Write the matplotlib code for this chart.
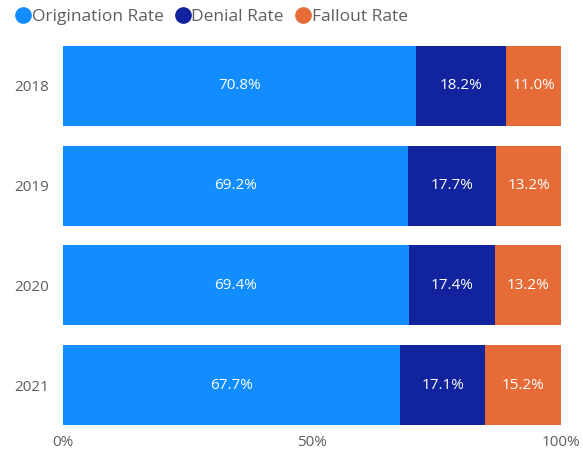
import numpy as np
import matplotlib
matplotlib.use("Agg")
import matplotlib.pyplot as plt
from matplotlib.lines import Line2D

years = ["2018", "2019", "2020", "2021"]
origination = [70.8, 69.2, 69.4, 67.7]
denial = [18.2, 17.7, 17.4, 17.1]
fallout = [11.0, 13.2, 13.2, 15.2]
series = [("Origination Rate", origination, "#118DFF"),
          ("Denial Rate", denial, "#12239E"),
          ("Fallout Rate", fallout, "#E66C37")]

plt.rcParams["font.family"] = ["Open Sans", "DejaVu Sans"]
fig = plt.figure(figsize=(5.83, 4.51), dpi=100)
ax = fig.add_axes([63 / 583, 1 - 435 / 451, 498 / 583, 399 / 451])

y = np.arange(len(years))
left = np.zeros(len(years))
for name, vals, col in series:
    vals = np.array(vals)
    ax.barh(y, vals, left=left, height=0.8, color=col, label=name)
    for yi, l, v in zip(y, left, vals):
        ax.text(l + v / 2, yi, f"{v:.1f}%", ha="center", va="center",
                color="white", fontsize=11)
    left += vals

ax.axvline(100, color="#cccccc", lw=0.8, ls=(0, (1, 2)), zorder=0)
ax.set_xlim(0, 100)
ax.set_ylim(3.5, -0.5)
ax.set_yticks(y, years)
ax.set_xticks([0, 50, 100], ["0%", "50%", "100%"])
ax.tick_params(length=0, labelsize=11, colors="#605E5C")
ax.tick_params(axis="y", pad=10)
ax.tick_params(axis="x", pad=0)
for s in ax.spines.values():
    s.set_visible(False)

handles = [Line2D([], [], marker="o", ls="", color=c, markersize=11)
           for _, _, c in series]
fig.legend(handles, [n for n, _, _ in series], loc="upper left",
           bbox_to_anchor=(-0.005, 1.015), ncol=3, frameon=False,
           handletextpad=-0.1, columnspacing=0.5, handlelength=1.2,
           fontsize=12.5, labelcolor="#605E5C")

fig.savefig("out.png", dpi=100)
